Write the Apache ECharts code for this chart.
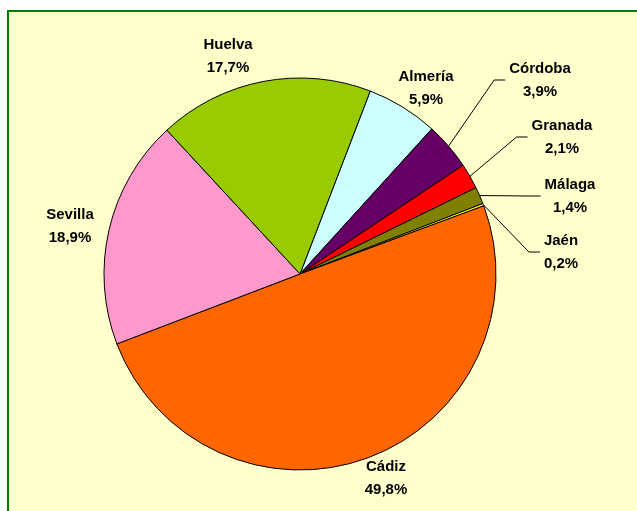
<!DOCTYPE html>
<html>
<head>
<meta charset="utf-8">
<script src="https://cdn.jsdelivr.net/npm/echarts@6/dist/echarts.min.js"></script>
<style>
  html, body { margin: 0; padding: 0; background: #ffffff; }
  #chart { width: 637px; height: 511px; }
</style>
</head>
<body>
<div id="chart"></div>
<script>
// provincias, en el orden de las agujas del reloj (empieza en Almería)
var provincias = ['Almería', 'Córdoba', 'Granada', 'Málaga', 'Jaén', 'Cádiz', 'Sevilla', 'Huelva']
var porcentajes = [5.9, 3.9, 2.1, 1.4, 0.2, 49.8, 18.9, 17.7]
var colores = ['#CCFFFF', '#660066', '#FF0000', '#808000', '#FFFF00', '#FF6600', '#FF99CC', '#99CC00']

// posicion de las etiquetas (centro del bloque) y si llevan linea
var etiquetas = {
  'Almería': { x: 426, y: 88, linea: false },
  'Córdoba': { x: 540, y: 80, linea: true },
  'Granada': { x: 562, y: 137, linea: true },
  'Málaga': { x: 570, y: 196, linea: true },
  'Jaén': { x: 561, y: 252, linea: true },
  'Cádiz': { x: 386, y: 478, linea: false },
  'Sevilla': { x: 70, y: 226, linea: false },
  'Huelva': { x: 228, y: 56, linea: false }
}

var fuente = { fontFamily: 'Liberation Sans, Arial, sans-serif', fontWeight: 'bold', fontSize: 15, color: '#000', align: 'center', lineHeight: 23 }

var chart = echarts.init(document.getElementById('chart'))

var datos = provincias.map(function (p, i) {
  return {
    name: p,
    value: porcentajes[i],
    itemStyle: { color: colores[i] },
    labelLine: { show: etiquetas[p].linea }
  }
})

chart.setOption({
  animation: false,
  graphic: [{
    type: 'rect',
    z: -10,
    silent: true,
    shape: { x: 8, y: 11, width: 700, height: 600 },
    style: { fill: '#FFFFCC', stroke: '#008000', lineWidth: 2 }
  }],
  series: [{
    type: 'pie',
    center: [300, 274],
    radius: 196,
    startAngle: 69,
    clockwise: true,
    avoidLabelOverlap: false,
    emphasis: { disabled: true },
    itemStyle: { borderColor: '#000', borderWidth: 1 },
    label: {
      show: true,
      position: 'outside',
      formatter: function (p) {
        return '{c|' + p.name + '}\n{c|' + p.value.toFixed(1).replace('.', ',') + '%}'
      },
      rich: { c: fuente }
    },
    labelLine: { show: true, length: 20, length2: 10, lineStyle: { color: '#000', width: 1 } },
    labelLayout: function (params) {
      var e = etiquetas[provincias[params.dataIndex]]
      var res = { x: e.x, y: e.y, align: 'center', verticalAlign: 'middle' }
      if (e.linea && params.labelLinePoints) {
        var ini = params.labelLinePoints[0]
        var fin = e.x - params.labelRect.width / 2 - 4
        res.labelLinePoints = [ini, [fin - 11, e.y], [fin, e.y]]
      }
      return res
    },
    data: datos
  }]
})
</script>
</body>
</html>
